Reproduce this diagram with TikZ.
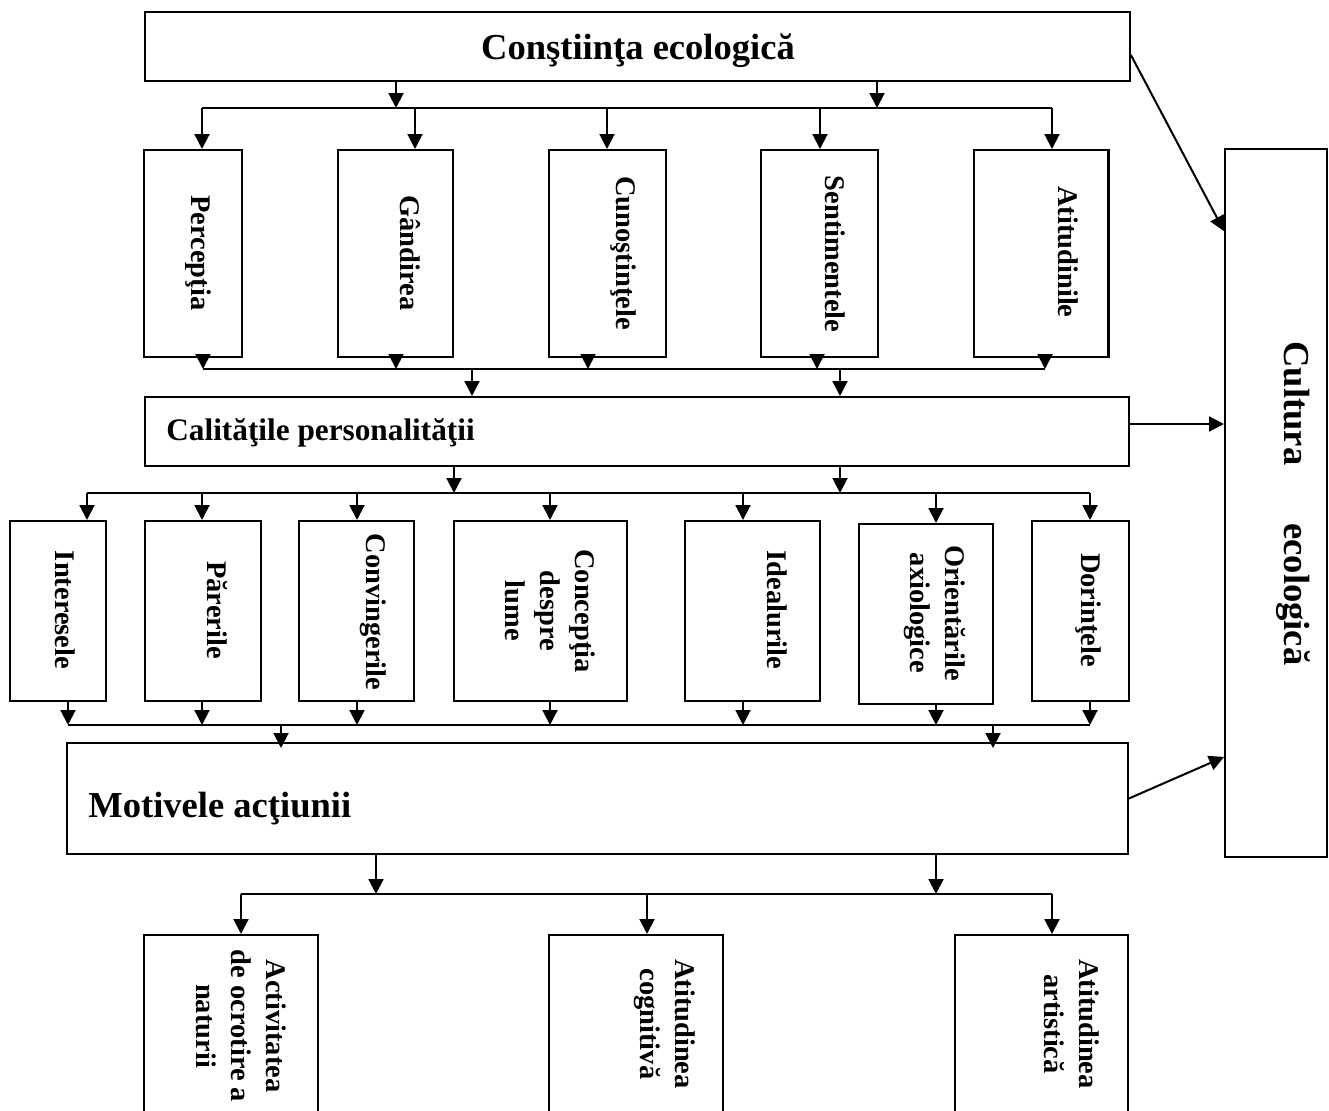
\documentclass[tikz,border=0pt]{standalone}
\usepackage{fontspec}
\setmainfont{Liberation Serif}
\usetikzlibrary{arrows.meta, positioning}

\begin{document}
\begin{tikzpicture}[
  x=0.02cm, y=-0.02cm,
  blk/.style={draw, line width=1.15pt, inner sep=0pt},
  vtxt/.style={rotate=-90, align=center, inner sep=0pt, font=\fontsize{16.2}{20}\selectfont\bfseries},
  bigtxt/.style={inner sep=0pt, font=\fontsize{20.8}{24}\selectfont\bfseries},
  midtxt/.style={inner sep=0pt, font=\fontsize{17.8}{21}\selectfont\bfseries},
  arr/.style={-{Triangle[length=8.5pt, width=8.5pt]}, line width=1.15pt},
  bus/.style={line width=1.15pt}
]
\useasboundingbox (0,0) rectangle (1329,1111);
\clip (0,0) rectangle (1329,1111);

% boxes
\node[blk, minimum width=19.70cm, minimum height=1.38cm] (cons) at (637.5,46.5) {};
\node[bigtxt, anchor=base] (cons-t) at (638,60) {Conştiinţa ecologică};

\node[blk, minimum width=1.96cm, minimum height=4.14cm] (perc) at (193,253.5) {};
\node[blk, minimum width=2.30cm, minimum height=4.14cm] (gand) at (395.5,253.5) {};
\node[blk, minimum width=2.34cm, minimum height=4.14cm] (cuno) at (607.5,253.5) {};
\node[blk, minimum width=2.34cm, minimum height=4.14cm] (sent) at (819.5,253.5) {};
\node[blk, minimum width=2.70cm, minimum height=4.14cm] (atit) at (1041,253.5) {};
\node[vtxt] (perc-t) at (198,253) {Percepţia};
\node[vtxt] (gand-t) at (410,253) {Gândirea};
\node[vtxt] (cuno-t) at (623,253) {Cunoştinţele};
\node[vtxt] (sent-t) at (835,254) {Sentimentele};
\node[vtxt] (atit-t) at (1068,252) {Atitudinile};

\node[blk, minimum width=19.68cm, minimum height=1.38cm] (calit) at (637,431.5) {};
\node[midtxt, anchor=base west] (calit-t) at (166,440) {Calităţile personalităţii};

\node[blk, minimum width=1.92cm, minimum height=3.60cm] (inter) at (58,611) {};
\node[blk, minimum width=2.32cm, minimum height=3.60cm] (parer) at (203,611) {};
\node[blk, minimum width=2.30cm, minimum height=3.60cm] (conv) at (356.5,611) {};
\node[blk, minimum width=3.46cm, minimum height=3.60cm] (conc) at (540.5,611) {};
\node[blk, minimum width=2.70cm, minimum height=3.60cm] (ideal) at (752.5,611) {};
\node[blk, minimum width=2.68cm, minimum height=3.60cm] (orient) at (926,614) {};
\node[blk, minimum width=1.94cm, minimum height=3.60cm] (dor) at (1080.5,611) {};
\node[vtxt] (inter-t) at (65,610) {Interesele};
\node[vtxt] (parer-t) at (217,610) {Părerile};
\node[vtxt] (conv-t) at (373,612) {Convingerile};
\node[vtxt] (conc-t) at (550,611) {Concepţia\\despre\\lume};
\node[vtxt] (ideal-t) at (777,610) {Idealurile};
\node[vtxt] (orient-t) at (935,613) {Orientările\\axiologice};
\node[vtxt] (dor-t) at (1088,610) {Dorinţele};

\node[blk, minimum width=21.22cm, minimum height=2.22cm] (motiv) at (597.5,798.5) {};
\node[bigtxt, anchor=base west] (motiv-t) at (88,817) {Motivele acţiunii};

\node[blk, minimum width=2.04cm, minimum height=14.16cm] (cult) at (1276,503) {};
\node[vtxt, font=\fontsize{20.8}{24}\selectfont\bfseries] (cult-t) at (1293,503.5) {Cultura\hspace{1.16cm}ecologică};

\node[blk, minimum width=3.48cm, minimum height=3.90cm] (act) at (231,1032.5) {};
\node[blk, minimum width=3.48cm, minimum height=3.90cm] (cogn) at (636,1032.5) {};
\node[blk, minimum width=3.46cm, minimum height=3.90cm] (art) at (1041.5,1032.5) {};
\node[vtxt] (act-t) at (241,1026) {Activitatea\\de ocrotire a\\naturii};
\node[vtxt] (cogn-t) at (664.5,1024) {Atitudinea\\cognitivă};
\node[vtxt] (art-t) at (1071.5,1024) {Atitudinea\\artistică};

% top bus
\coordinate (t1) at (396,108);
\coordinate (t2) at (877,108);
\draw[arr] (t1 |- cons.south) -- (t1);
\draw[arr] (t2 |- cons.south) -- (t2);
\coordinate (d11) at (202,108);
\coordinate (d12) at (415,108);
\coordinate (d13) at (607,108);
\coordinate (d14) at (820,108);
\coordinate (d15) at (1052,108);
\draw[bus] (d11) -- (d15);
\foreach \c/\n in {d11/perc, d12/gand, d13/cuno, d14/sent, d15/atit}
  \draw[arr] (\c) -- (\c |- \n.north);

% second bus
\coordinate (u11) at (203,369);
\coordinate (u12) at (396,369);
\coordinate (u13) at (588,369);
\coordinate (u14) at (817,369);
\coordinate (u15) at (1045,369);
\foreach \c/\n in {u11/perc, u12/gand, u13/cuno, u14/sent, u15/atit}
  \draw[arr] (\c |- \n.south) -- (\c);
\draw[bus] (u11) -- (u15);
\coordinate (t3) at (472,369);
\coordinate (t4) at (840,369);
\draw[arr] (t3) -- (t3 |- calit.north);
\draw[arr] (t4) -- (t4 |- calit.north);

% third bus
\coordinate (t5) at (454,493);
\coordinate (t6) at (840,493);
\draw[arr] (t5 |- calit.south) -- (t5);
\draw[arr] (t6 |- calit.south) -- (t6);
\coordinate (d21) at (87,493);
\coordinate (d22) at (202,493);
\coordinate (d23) at (357,493);
\coordinate (d24) at (550,493);
\coordinate (d25) at (743,493);
\coordinate (d26) at (936,493);
\coordinate (d27) at (1090,493);
\draw[bus] (d21) -- (d27);
\foreach \c/\n in {d21/inter, d22/parer, d23/conv, d24/conc, d25/ideal, d26/orient, d27/dor}
  \draw[arr] (\c) -- (\c |- \n.north);

% fourth bus
\coordinate (u21) at (68,725);
\coordinate (u22) at (202,725);
\coordinate (u23) at (357,725);
\coordinate (u24) at (550,725);
\coordinate (u25) at (743,725);
\coordinate (u26) at (936,725);
\coordinate (u27) at (1090,725);
\foreach \c/\n in {u21/inter, u22/parer, u23/conv, u24/conc, u25/ideal, u26/orient, u27/dor}
  \draw[arr] (\c |- \n.south) -- (\c);
\draw[bus] (u21) -- (u27);
\coordinate (t7) at (281,725);
\coordinate (t8) at (993,725);
\draw[arr] (t7) -- ([yshift=-0.12cm]t7 |- motiv.north);
\draw[arr] (t8) -- ([yshift=-0.12cm]t8 |- motiv.north);

% last bus
\coordinate (t9) at (376,894);
\coordinate (t10) at (936,894);
\draw[arr] (t9 |- motiv.south) -- (t9);
\draw[arr] (t10 |- motiv.south) -- (t10);
\coordinate (d31) at (241,894);
\coordinate (d32) at (647,894);
\coordinate (d33) at (1052,894);
\draw[bus] (d31) -- (d33);
\foreach \c/\n in {d31/act, d32/cogn, d33/art}
  \draw[arr] (\c) -- (\c |- \n.north);

% to the culture box
\draw[arr] ([yshift=-0.17cm]cons.east) -- ([yshift=5.44cm]cult.west);
\coordinate (m1) at ([yshift=0.15cm]calit.east);
\draw[arr] (m1) -- (m1 -| cult.west);
\draw[arr] (motiv.east) -- ([yshift=-5.08cm]cult.west);
\end{tikzpicture}
\end{document}
